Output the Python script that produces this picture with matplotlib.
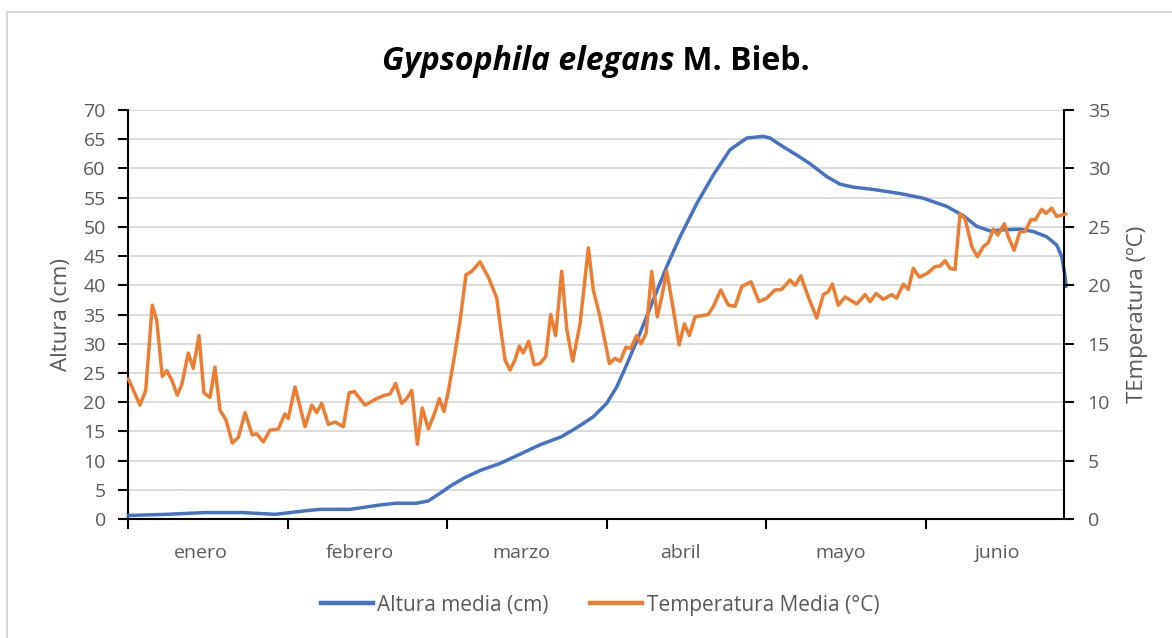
import matplotlib
matplotlib.use("Agg")
import matplotlib.pyplot as plt
from matplotlib.lines import Line2D
import numpy as np

plt.rcParams['font.family'] = ['Open Sans', 'DejaVu Sans']

# ---------------- data ----------------
months = ["enero", "febrero", "marzo", "abril", "mayo", "junio"]
x_end = 5.868  # end of the date axis (in month units)

# Altura media (cm) -- position in months since 1 January
alt_x = [0.0, 0.242, 0.483, 0.715, 0.922, 1.110, 1.204, 1.392, 1.580, 1.680,
         1.809, 1.883, 1.956, 2.030, 2.113, 2.207, 2.332, 2.458, 2.583, 2.719,
         2.823, 2.917, 3.001, 3.064, 3.126, 3.210, 3.293, 3.377, 3.461, 3.566,
         3.670, 3.774, 3.879, 3.983, 4.025, 4.108, 4.192, 4.276, 4.381, 4.464,
         4.547, 4.673, 4.840, 4.986, 5.133, 5.237, 5.321, 5.404, 5.488, 5.592,
         5.676, 5.760, 5.822, 5.854, 5.875, 5.881]
alt_y = [0.6, 0.8, 1.1, 1.1, 0.8, 1.4, 1.65, 1.65, 2.4, 2.7,
         2.7, 3.1, 4.4, 5.8, 7.1, 8.3, 9.5, 11.1, 12.7, 14.1,
         15.8, 17.5, 19.8, 22.6, 26.4, 31.8, 37.5, 43.2, 48.3, 54.0,
         58.9, 63.2, 65.2, 65.5, 65.2, 63.7, 62.3, 60.8, 58.6, 57.3,
         56.8, 56.4, 55.7, 54.9, 53.5, 51.9, 50.1, 49.3, 49.5, 49.6,
         49.2, 48.3, 46.9, 44.9, 41.5, 39.8]

# Temperatura media (°C)
tmp_x = [0.002, 0.075, 0.111, 0.152, 0.180, 0.215, 0.243, 0.274, 0.309, 0.337,
         0.378, 0.409, 0.445, 0.476, 0.514, 0.545, 0.577, 0.614, 0.654, 0.692,
         0.734, 0.779, 0.807, 0.848, 0.890, 0.942, 0.984, 1.005, 1.047, 1.110,
         1.152, 1.183, 1.214, 1.256, 1.298, 1.350, 1.386, 1.419, 1.486, 1.559,
         1.601, 1.643, 1.678, 1.716, 1.747, 1.779, 1.814, 1.845, 1.883, 1.918,
         1.952, 1.981, 2.008, 2.050, 2.082, 2.119, 2.155, 2.207, 2.259, 2.312,
         2.337, 2.364, 2.395, 2.426, 2.453, 2.478, 2.512, 2.547, 2.583, 2.619,
         2.650, 2.681, 2.719, 2.751, 2.788, 2.834, 2.886, 2.917, 2.959, 3.018,
         3.053, 3.085, 3.122, 3.152, 3.189, 3.216, 3.248, 3.283, 3.318, 3.346,
         3.377, 3.419, 3.455, 3.488, 3.519, 3.555, 3.638, 3.670, 3.716, 3.764,
         3.806, 3.848, 3.906, 3.956, 4.004, 4.056, 4.098, 4.150, 4.182, 4.218,
         4.265, 4.318, 4.359, 4.390, 4.416, 4.453, 4.495, 4.569, 4.621, 4.652,
         4.690, 4.735, 4.788, 4.819, 4.861, 4.892, 4.923, 4.961, 5.008, 5.060,
         5.091, 5.122, 5.154, 5.185, 5.216, 5.248, 5.290, 5.325, 5.362, 5.393,
         5.425, 5.453, 5.494, 5.519, 5.555, 5.592, 5.624, 5.660, 5.687, 5.728,
         5.755, 5.791, 5.822, 5.881]
tmp_y = [12.0, 9.75, 11.0, 18.3, 17.0, 12.2, 12.7, 11.9, 10.6, 11.5,
         14.2, 12.9, 15.7, 10.8, 10.4, 13.0, 9.3, 8.5, 6.5, 7.0,
         9.1, 7.2, 7.3, 6.6, 7.6, 7.7, 9.0, 8.6, 11.3, 7.9,
         9.75, 9.1, 9.9, 8.1, 8.3, 7.9, 10.8, 10.9, 9.75, 10.3,
         10.55, 10.7, 11.6, 9.9, 10.3, 11.0, 6.4, 9.5, 7.7, 8.9,
         10.3, 9.2, 10.9, 14.2, 17.0, 20.9, 21.2, 22.0, 20.7, 18.9,
         16.2, 13.6, 12.75, 13.6, 14.8, 14.2, 15.2, 13.2, 13.3, 13.9,
         17.5, 15.7, 21.2, 16.2, 13.5, 16.7, 23.2, 19.6, 17.3, 13.3,
         13.75, 13.5, 14.7, 14.6, 15.7, 15.0, 15.9, 21.2, 17.3, 19.0,
         21.2, 17.9, 14.9, 16.7, 15.7, 17.3, 17.5, 18.2, 19.6, 18.3,
         18.2, 19.9, 20.3, 18.6, 18.9, 19.6, 19.65, 20.45, 20.0, 20.8,
         19.0, 17.2, 19.2, 19.45, 20.1, 18.3, 19.0, 18.4, 19.2, 18.6,
         19.3, 18.8, 19.2, 18.9, 20.1, 19.65, 21.45, 20.7, 21.0, 21.6,
         21.65, 22.1, 21.45, 21.35, 26.1, 25.7, 23.3, 22.45, 23.3, 23.65,
         24.8, 24.3, 25.25, 24.15, 23.0, 24.6, 24.6, 25.6, 25.6, 26.5,
         26.15, 26.6, 25.9, 26.1]

title_italic = "Gypsophila elegans"
title_rest = " M. Bieb."
y1_label = "Altura (cm)"
y2_label = "TEmperatura (ºC)"
leg_labels = ["Altura media (cm)", "Temperatura Media (°C)"]

# ---------------- style ----------------
W, H = 1172, 638
BLUE = "#4472C4"
ORANGE = "#ED7D31"
GREY = "#595959"
GRID = "#D9D9D9"
FS = 14

fig = plt.figure(figsize=(W / 100, H / 100), dpi=100)
fig.patch.set_facecolor("white")

# chart border (light grey)
fig.add_artist(Line2D([7 / W, 7 / W], [0, 1 - 12 / H], color=GRID, lw=1.5))
fig.add_artist(Line2D([7 / W, 1], [1 - 12 / H, 1 - 12 / H], color=GRID, lw=1.5))

left, right = 128 / W, 1064 / W
bottom, top = 1 - 519 / H, 1 - 110 / H
ax = fig.add_axes([left, bottom, right - left, top - bottom])
ax2 = ax.twinx()

lw = 2.5
ax.plot(alt_x, alt_y, color=BLUE, lw=lw, solid_joinstyle="round",
        solid_capstyle="round", clip_on=False, zorder=3)
ax2.plot(tmp_x, tmp_y, color=ORANGE, lw=lw, solid_joinstyle="round",
         solid_capstyle="round", clip_on=False, zorder=3)

ax.set_xlim(0, x_end)
ax.set_ylim(0, 70)
ax2.set_ylim(0, 35)
ax.set_yticks(np.arange(0, 71, 5))
ax2.set_yticks(np.arange(0, 36, 5))

ax.yaxis.grid(True, color=GRID, lw=1.3)
ax.set_axisbelow(True)

# month ticks
ax.set_xticks(np.arange(0, 6))
ax.set_xticklabels([])
centers = [0.455, 1.455, 2.465, 3.465, 4.465, 5.448]
ax.set_xticks(centers, minor=True)
ax.set_xticklabels(months, minor=True)
ax.tick_params(axis="x", which="minor", length=0, pad=18, labelsize=FS, labelcolor=GREY)
ax.tick_params(axis="x", which="major", length=7, width=1.5, direction="out", color="black")

ax.tick_params(axis="y", length=7, width=1.5, direction="out", labelsize=FS,
               labelcolor=GREY, pad=9)
ax2.tick_params(axis="y", length=7, width=1.5, direction="out", labelsize=FS,
                labelcolor=GREY, pad=10)

for a in (ax, ax2):
    a.spines["top"].set_visible(False)
    for s in ("left", "right", "bottom"):
        a.spines[s].set_linewidth(1.5)
        a.spines[s].set_color("black")
ax2.spines["left"].set_visible(False)
ax2.spines["bottom"].set_visible(False)
ax.spines["right"].set_visible(False)

ax.set_ylabel(y1_label, fontsize=FS + 2, color=GREY, labelpad=8)
ax2.set_ylabel(y2_label, fontsize=FS + 2, color=GREY, labelpad=12)

# title: italic species name + bold author
TFS = 23
t1 = fig.text(0.5, 1 - 62 / H, title_italic, fontsize=TFS, fontweight="bold",
              fontstyle="italic", ha="right", va="center")
t2 = fig.text(0.5, 1 - 62 / H, title_rest, fontsize=TFS, fontweight="bold",
              ha="left", va="center")
fig.canvas.draw()
r = fig.canvas.get_renderer()
w1 = t1.get_window_extent(r).width
w2 = t2.get_window_extent(r).width
xc = 596
t1.set_x((xc - (w1 + w2) / 2 + w1) / W)
t2.set_x((xc - (w1 + w2) / 2 + w1) / W)

handles = [Line2D([], [], color=BLUE, lw=3.2), Line2D([], [], color=ORANGE, lw=3.2)]
fig.legend(handles, leg_labels, loc="center", bbox_to_anchor=(600 / W, 1 - 605 / H),
           ncol=2, frameon=False, fontsize=15, labelcolor=GREY,
           handlelength=2.5, handletextpad=0.2, columnspacing=2.0)

fig.savefig("out.png", dpi=100, facecolor="white")
